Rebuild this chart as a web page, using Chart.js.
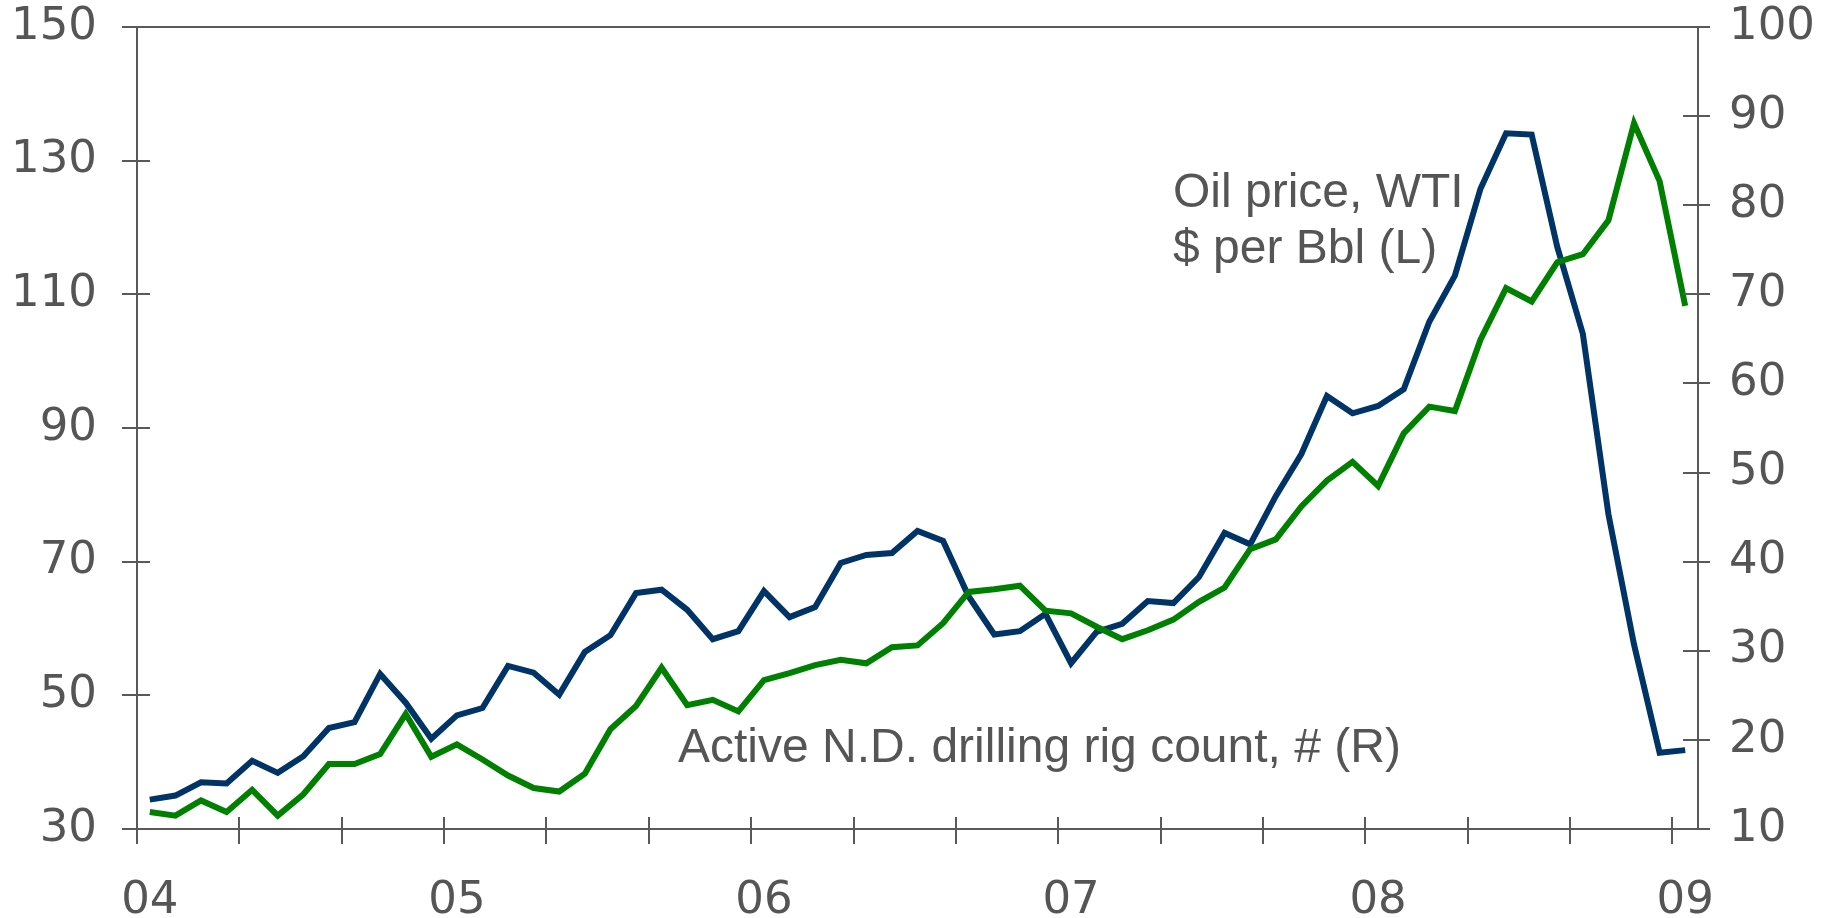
<!DOCTYPE html>
<html>
<head>
<meta charset="utf-8">
<script src="https://cdn.jsdelivr.net/npm/chart.js@4/dist/chart.umd.min.js"></script>
<style>
  html, body { margin: 0; padding: 0; background: #fff; }
  #wrap { width: 1835px; height: 918px; position: relative; }
</style>
</head>
<body>
<div id="wrap"><canvas id="c"></canvas></div>
<script>
// Monthly categories, Jan 2004 .. Jan 2009
const months = [];
for (let y = 2004; y <= 2009; y++) {
  for (let m = 1; m <= 12; m++) {
    if (y === 2009 && m > 1) break;
    months.push(y + '-' + String(m).padStart(2, '0'));
  }
}
const yearLabels = ['04', '05', '06', '07', '08', '09'];

// Oil price, WTI, $ per Bbl (left axis)
const oilPrice = [
  34.4, 35.0, 37.0, 36.8, 40.2, 38.4, 40.9, 45.1, 46.0, 53.2, 48.9, 43.5,
  47.0, 48.1, 54.4, 53.4, 50.1, 56.5, 59.0, 65.3, 65.8, 62.8, 58.4, 59.6,
  65.6, 61.7, 63.2, 69.8, 71.0, 71.3, 74.6, 73.1, 64.8, 59.1, 59.6, 62.2,
  54.8, 59.5, 60.7, 64.1, 63.8, 67.7, 74.3, 72.6, 79.8, 86.1, 94.8, 92.2,
  93.3, 95.8, 105.9, 112.8, 125.8, 134.1, 133.9, 117.1, 104.1, 77.1, 57.6, 41.4,
  41.8
];

// Active N.D. drilling rig count (right axis)
const rigCount = [
  11.9, 11.5, 13.2, 11.9, 14.4, 11.5, 13.9, 17.3, 17.3, 18.4, 22.9, 18.1,
  19.5, 17.8, 16.0, 14.6, 14.2, 16.2, 21.2, 23.8, 28.1, 23.9, 24.5, 23.2,
  26.7, 27.5, 28.4, 29.0, 28.6, 30.4, 30.6, 33.1, 36.6, 36.9, 37.3, 34.5,
  34.2, 32.7, 31.3, 32.3, 33.5, 35.5, 37.1, 41.4, 42.5, 46.2, 49.1, 51.2,
  48.5, 54.4, 57.4, 56.9, 64.9, 70.7, 69.2, 73.6, 74.5, 78.3, 89.2, 82.7,
  68.7
];

const AXIS = '#595959';
const TEXT = '#555555';
const tickFont = { family: 'DejaVu Sans', size: 45 };

const framePlugin = {
  id: 'frame',
  afterDraw(chart) {
    const { ctx, chartArea: a, scales } = chart;
    ctx.save();
    ctx.strokeStyle = AXIS;
    ctx.lineWidth = 2;
    ctx.beginPath();
    // top border
    ctx.moveTo(a.left - 15, a.top);
    ctx.lineTo(a.right + 12, a.top);
    // left axis ticks
    scales.y.ticks.forEach(t => {
      const py = Math.round(scales.y.getPixelForValue(t.value));
      ctx.moveTo(a.left - 15, py);
      ctx.lineTo(a.left + 13, py);
    });
    // right axis ticks
    scales.y2.ticks.forEach(t => {
      const py = Math.round(scales.y2.getPixelForValue(t.value));
      ctx.moveTo(a.right - 15, py);
      ctx.lineTo(a.right + 12, py);
    });
    // x ticks every 4 months on category boundaries
    const n = months.length;
    for (let i = 4; i < n; i += 4) {
      const px = Math.round((scales.x.getPixelForValue(i - 1) + scales.x.getPixelForValue(i)) / 2);
      ctx.moveTo(px, a.bottom - 12);
      ctx.lineTo(px, a.bottom + 15);
    }
    ctx.moveTo(a.left, a.bottom);
    ctx.lineTo(a.left, a.bottom + 15);
    ctx.stroke();

    // annotations
    ctx.fillStyle = TEXT;
    ctx.font = '48px "Liberation Sans", Arial, sans-serif';
    ctx.textAlign = 'left';
    ctx.textBaseline = 'alphabetic';
    ctx.fillText('Oil price, WTI', 1173, 207);
    ctx.fillText('$ per Bbl (L)', 1173, 263);
    ctx.fillText('Active N.D. drilling rig count, # (R)', 678, 762);
    ctx.restore();
  }
};

function fixVertical(width) {
  return s => {
    s.width = width;
    s.paddingTop = 10;
    s.paddingBottom = 10;
  };
}

new Chart(document.getElementById('c'), {
  type: 'line',
  data: {
    labels: months,
    datasets: [
      {
        label: 'Active N.D. drilling rig count, # (R)',
        data: rigCount,
        yAxisID: 'y2',
        borderColor: '#008000',
        borderWidth: 6,
        pointRadius: 0,
        tension: 0,
        order: 0
      },
      {
        label: 'Oil price, WTI $ per Bbl (L)',
        data: oilPrice,
        yAxisID: 'y',
        borderColor: '#003366',
        borderWidth: 6,
        pointRadius: 0,
        tension: 0,
        order: 1
      }
    ]
  },
  options: {
    responsive: true,
    maintainAspectRatio: false,
    animation: false,
    layout: { padding: { top: 27, left: 0, right: 0, bottom: 0 } },
    plugins: { legend: { display: false }, tooltip: { enabled: false } },
    scales: {
      x: {
        type: 'category',
        offset: true,
        grid: { display: false, drawTicks: false },
        border: { display: true, color: AXIS, width: 2 },
        ticks: {
          autoSkip: false,
          maxRotation: 0,
          minRotation: 0,
          font: tickFont,
          color: TEXT,
          padding: 45,
          callback: (v, i) => (i % 12 === 0 ? yearLabels[i / 12] : '')
        },
        afterFit: s => { s.height = 89; s.paddingLeft = 0; s.paddingRight = 0; }
      },
      y: {
        position: 'left',
        min: 30,
        max: 150,
        grid: { display: false, drawTicks: false },
        border: { display: true, color: AXIS, width: 2 },
        ticks: { stepSize: 20, font: tickFont, color: TEXT, padding: 40 },
        afterFit: fixVertical(137)
      },
      y2: {
        position: 'right',
        min: 10,
        max: 100,
        grid: { display: false, drawTicks: false },
        border: { display: true, color: AXIS, width: 2 },
        ticks: { stepSize: 10, font: tickFont, color: TEXT, padding: 31 },
        afterFit: fixVertical(137)
      }
    }
  },
  plugins: [framePlugin]
});
</script>
</body>
</html>
